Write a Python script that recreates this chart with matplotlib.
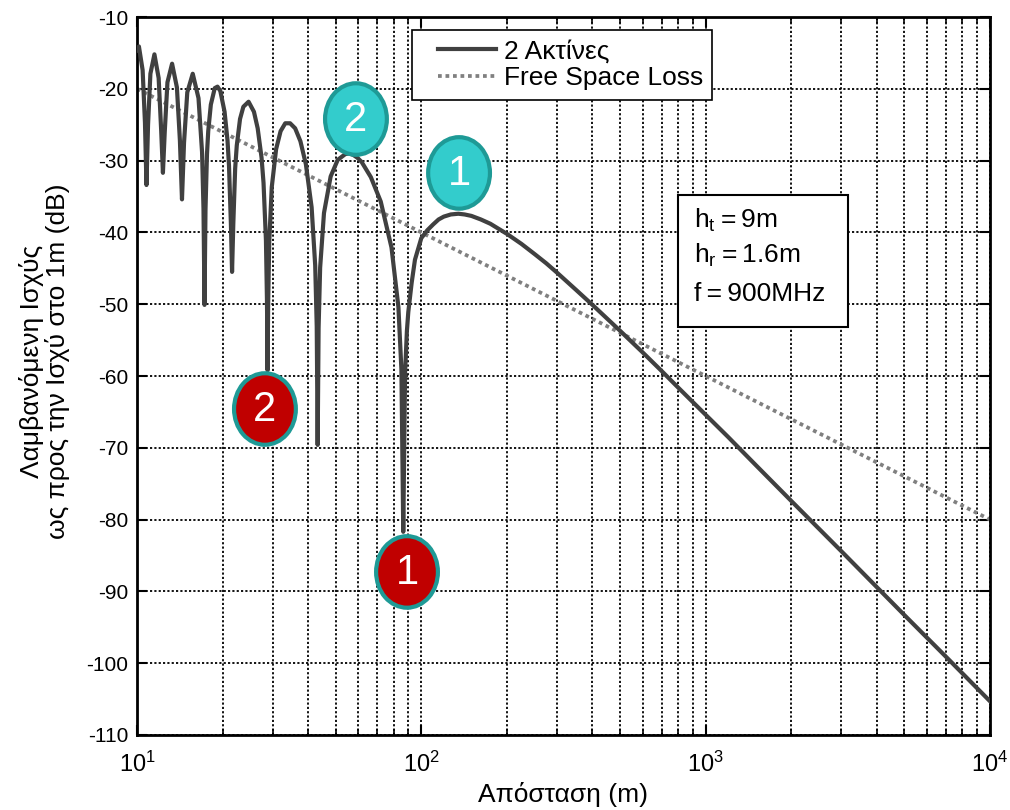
import matplotlib
matplotlib.use("Agg")
import matplotlib.pyplot as plt
from matplotlib.patches import Ellipse, Rectangle
from matplotlib.text import Text
from matplotlib.lines import Line2D
from matplotlib.legend_handler import HandlerLine2D
from matplotlib.offsetbox import DrawingArea, AnnotationBbox

plt.rcParams['font.family'] = ['Liberation Sans', 'DejaVu Sans']
plt.rcParams['mathtext.fontset'] = 'custom'
plt.rcParams['mathtext.rm'] = 'Liberation Sans'
plt.rcParams['mathtext.it'] = 'Liberation Sans'
plt.rcParams['axes.unicode_minus'] = False

# two-ray received power (distance in m, dB rel. 1m)
dist = [10, 10.16, 10.47, 10.67, 10.8,
        10.94, 11.15, 11.52, 11.92, 12.17, 12.34,
        12.52, 12.8, 13.29, 13.82, 14.16, 14.4,
        14.64, 15.03, 15.71, 16.46, 16.94, 17.14, 17.23, 17.28,
        17.42, 17.63, 17.81, 18.19, 18.78, 19.2, 19.64, 20.33, 20.82, 21.07, 21.39, 21.6,
        21.82, 22.15, 22.44, 23.04, 23.67, 24.69, 25.79, 26.58, 27.43, 27.87, 28.42, 28.66, 28.8,
        28.94, 29.19, 29.79, 30.86, 32.0, 33.23, 34.56, 36.0, 37.57, 39.27, 41.14, 42.35, 42.88, 43.2,
        43.53, 44.08, 45.47, 48.0, 50.82, 54.0, 55.74, 57.6, 59.59, 61.71, 66.46, 72.0, 78.55, 83.08,
        85.12, 86.4,
        87.7, 89, 90, 92.5, 95, 100, 105, 110, 115, 120, 127, 135, 142, 150, 162, 175, 187, 200,
        225, 250, 275, 300, 350, 400, 450, 500, 600, 700, 800,
        1000, 1200, 1500, 2000, 3000, 5000, 7000, 10000]
two_ray_db = [-14.6, -14.1, -17.4, -24.7, -33.4,
              -25.0, -17.9, -15.2, -18.5, -25.9, -31.7,
              -26.1, -19.1, -16.5, -19.8, -27.2, -35.4,
              -27.5, -20.5, -17.9, -21.3, -28.8, -36.7, -45.2, -50.1,
              -36.8, -29.1, -25.9, -22.2, -19.9, -19.7, -20.3, -23.2, -27.2, -30.7, -38.6, -45.5,
              -38.8, -31.1, -27.9, -24.2, -22.5, -21.8, -23.2, -25.5, -29.6, -33.1, -41.1, -49.6, -59.2,
              -49.7, -41.3, -33.7, -28.4, -25.9, -24.8, -24.8, -25.5, -27.3, -30.5, -36.5, -44.6, -53.1, -69.6,
              -53.3, -44.9, -37.3, -32.2, -29.9, -29.1, -29.0, -29.2, -29.6, -30.2, -32.3, -35.7, -42.1, -50.4,
              -59.1, -81.7,
              -59.4, -53.7, -51.1, -47.0, -43.8, -40.8, -39.7, -38.9, -38.2, -37.8, -37.5, -37.4, -37.5,
              -37.7, -38.2, -38.8, -39.5, -40.2,
              -41.6, -43.0, -44.3, -45.6, -48.0, -50.1, -52.0, -53.7, -56.7, -59.3, -61.6,
              -65.4, -68.5, -72.4, -77.4, -84.4, -93.3, -99.1, -105.3]

# free space loss
fsl_dist = [10, 100, 1000, 10000]
fsl_db = [-20, -40, -60, -80]

series_labels = ['2 Ακτίνες', 'Free Space Loss']
params = ['h$_\\mathregular{t}$\u2009=\u20099m', 'h$_\\mathregular{r}$\u2009=\u20091.6m',
          'f\u2009=\u2009900MHz']

# numbered markers at the peaks / nulls
badge_x = [57.6, 135, 28.8, 86.4]
badge_y = [-29.2, -37.5, -59.2, -81.7]
badge_text = ['2', '1', '2', '1']
badge_kind = ['max', 'max', 'min', 'min']
badge_off = [(2, 25.8), (0.5, 29.9), (-1.9, -27.9), (2.7, -28.9)]  # points

fig = plt.figure(figsize=(10.1, 8.1), dpi=100)
ax = fig.add_axes([0.1356, 0.0926, 0.8446, 0.8864])

ray_line, = ax.plot(dist, two_ray_db, color='#404040', lw=3, label=series_labels[0], zorder=3,
                    solid_joinstyle='round')
fsl_line, = ax.plot(fsl_dist, fsl_db, color='#808080', lw=2.7, linestyle=(0, (1, 1)),
                    label=series_labels[1], zorder=2)

ax.set_xscale('log')
ax.set_xlim(10, 1e4)
ax.set_ylim(-110, -10)
ax.set_yticks(range(-110, 0, 10))

ax.grid(True, which='major', axis='both', color='black', lw=1.3, linestyle=(0, (1.2, 1.2)))
ax.grid(True, which='minor', axis='x', color='black', lw=1.3, linestyle=(0, (1.2, 1.2)))
ax.set_axisbelow(True)

ax.tick_params(which='both', direction='in', top=True, right=True, labelsize=15)
ax.tick_params(which='major', length=7, width=1.5)
ax.tick_params(axis='y', which='major', pad=6)
ax.tick_params(axis='x', which='major', pad=12, labelsize=17)
ax.tick_params(which='minor', length=4, width=1.2)
for s in ax.spines.values():
    s.set_linewidth(2)

ax.set_xlabel('Απόσταση (m)', fontsize=19, labelpad=4)
ax.set_ylabel('Λαμβανόμενη Ισχύς\nως προς την Ισχύ στο 1m (dB)', fontsize=19, linespacing=1.05)
ax.yaxis.set_label_coords(-0.079, 0.52)

hmap = {ray_line: HandlerLine2D(xpad=0.64), fsl_line: HandlerLine2D(xpad=0.64)}
leg = ax.legend(loc='upper left', bbox_to_anchor=(0.322, 0.982), fontsize=19, frameon=True,
                fancybox=False, edgecolor='black', framealpha=1, borderpad=0.35,
                handlelength=2.84, handletextpad=0.3, labelspacing=0.12, borderaxespad=0,
                handler_map=hmap)
leg.get_frame().set_linewidth(1.2)

# parameter box
ax.add_patch(Rectangle((0.634, 0.568), 0.199, 0.184, transform=ax.transAxes,
                       fc='white', ec='black', lw=1.5, zorder=4))
for txt, yy in zip(params, [0.7066, 0.6574, 0.6049]):
    ax.text(0.653, yy, txt, transform=ax.transAxes, fontsize=19, va='baseline', zorder=5)

# numbered circles
faces = {'max': '#33CCCC', 'min': '#C00000'}
w, h = 47.5, 54.5
for bx, by, bt, bk, off in zip(badge_x, badge_y, badge_text, badge_kind, badge_off):
    da = DrawingArea(w, h, 0, 0)
    da.add_artist(Ellipse((w / 2, h / 2), w - 3, h - 3, fc=faces[bk], ec='#1E9A96', lw=3))
    da.add_artist(Text(w / 2, h / 2 - 1, bt, ha='center', va='center', color='white',
                       fontsize=30, family='Liberation Sans'))
    ab = AnnotationBbox(da, (bx, by), xybox=off, boxcoords='offset points',
                        frameon=False, pad=0, zorder=6)
    ax.add_artist(ab)

fig.savefig('out.png', dpi=100)
